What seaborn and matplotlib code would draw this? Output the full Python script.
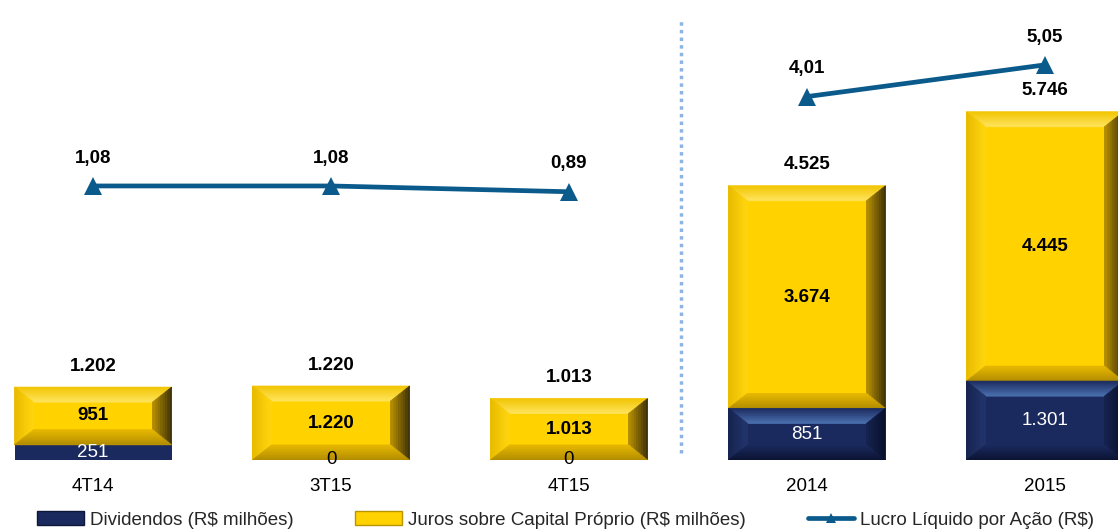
import matplotlib
matplotlib.use('Agg')
import numpy as np
import pandas as pd
import matplotlib.pyplot as plt
import seaborn as sns
from matplotlib.patches import Polygon, Rectangle
from matplotlib.lines import Line2D
from matplotlib.colors import to_rgb
from matplotlib.transforms import IdentityTransform

# data
periodos = ["4T14", "3T15", "4T15", "2014", "2015"]
dividendos = [251, 0, 0, 851, 1301]
juros = [951, 1220, 1013, 3674, 4445]
totais = [1202, 1220, 1013, 4525, 5746]
lucro_tri = [1.08, 1.08, 0.89]
lucro_ano = [4.01, 5.05]

YEL = "#FFD200"
NAVY = "#1B2A5E"
LINE = "#0B5A8C"
SEP = "#8DB4E2"
FS = 13.5


def br_int(v):
    return "{:,}".format(v).replace(",", ".")


def br_dec(v):
    return "{:.2f}".format(v).replace(".", ",")


def mix(c1, c2, t):
    a, b = np.array(to_rgb(c1)), np.array(to_rgb(c2))
    return tuple(a + (b - a) * t)


def bevel(ax, p, cols, dx=19, dy=15, steps=8):
    # fake excel bevel, drawn in pixels over the bar patch
    # cols: (outer, inner) colour for top, left, right, bottom
    h = p.get_height()
    if h <= 0:
        return
    X0, Y0 = ax.transData.transform((p.get_x(), p.get_y()))
    X1, Y1 = ax.transData.transform((p.get_x() + p.get_width(), p.get_y() + h))
    if Y1 - Y0 < 25:
        return
    ex = min(dx, (X1 - X0) / 2)
    ey = min(dy, (Y1 - Y0) / 2)
    for k in range(steps):
        a, b = k / steps, (k + 1) / steps
        xa, xb, ya, yb = ex * a, ex * b, ey * a, ey * b
        sides = [
            [(X0 + xa, Y1 - ya), (X1 - xa, Y1 - ya), (X1 - xb, Y1 - yb), (X0 + xb, Y1 - yb)],
            [(X0 + xa, Y0 + ya), (X0 + xa, Y1 - ya), (X0 + xb, Y1 - yb), (X0 + xb, Y0 + yb)],
            [(X1 - xa, Y0 + ya), (X1 - xa, Y1 - ya), (X1 - xb, Y1 - yb), (X1 - xb, Y0 + yb)],
            [(X0 + xa, Y0 + ya), (X1 - xa, Y0 + ya), (X1 - xb, Y0 + yb), (X0 + xb, Y0 + yb)],
        ]
        for pts, (c_out, c_in) in zip(sides, cols):
            c = mix(c_out, c_in, (a + b) / 2)
            ax.add_artist(Polygon(pts, closed=True, facecolor=c, edgecolor=c, lw=0.6,
                                  transform=IdentityTransform(), zorder=3))


sns.set_theme(style="white")
plt.rcParams['font.family'] = ['Liberation Sans', 'DejaVu Sans']

fig = plt.figure(figsize=(11.18, 5.31), dpi=100)
ax = fig.add_axes([0, 71 / 531, 1, 460 / 531])

df = pd.DataFrame({"periodo": periodos, "total": totais, "div": dividendos, "juros": juros})
sns.barplot(data=df, x="periodo", y="total", color=YEL, saturation=1, width=0.66,
            linewidth=0, ax=ax, zorder=2)
sns.barplot(data=df, x="periodo", y="div", color=NAVY, saturation=1, width=0.66,
            linewidth=0, ax=ax, zorder=2)
yel_bars = ax.patches[:len(periodos)]
navy_bars = ax.patches[len(periodos):2 * len(periodos)]

ax.set_xlim(-0.391, 4.307)
ax.set_ylim(0, 7590)

# yellow part sits on top of the dividends
for p, d, j in zip(yel_bars, dividendos, juros):
    p.set_y(d)
    p.set_height(j)

yel_cols = [("#F2C400", "#FFE45C"), ("#E8BA00", "#FFD60F"),
            ("#3A2E0A", "#B89000"), ("#B08A00", "#E6B800")]
navy_cols = [("#1B2A5E", "#4A6FAE"), ("#16234F", "#22356C"),
             ("#080F2A", "#16234F"), ("#0A1230", "#1B2A5E")]
for p in yel_bars:
    bevel(ax, p, yel_cols)
for p in navy_bars:
    bevel(ax, p, navy_cols)

# labels
for i, (d, j, t) in enumerate(zip(dividendos, juros, totais)):
    ax.annotate(br_int(t), (i, t), xytext=(0, 15), textcoords="offset points",
                ha="center", va="center", fontsize=FS, fontweight="bold", color="black", zorder=5)
    ax.text(i, d + j / 2, br_int(j), ha="center", va="center", fontsize=FS,
            fontweight="bold", color="black", zorder=5)
    ax.text(i, d / 2, br_int(d), ha="center", va="center", fontsize=FS,
            color="white" if d > 0 else "black", zorder=5)

ax.axvline(2.47, ymin=7 / 460, ymax=440 / 460, color=SEP, lw=2.5,
           linestyle=(0, (1, 1.2)), zorder=1)

ax.set_xlabel("")
ax.set_ylabel("")
ax.set_yticks([])
ax.tick_params(axis="x", length=0, pad=13, labelsize=FS, colors="black")
sns.despine(ax=ax, left=True, bottom=True)

# line on its own axes
ax2 = fig.add_axes([0, 71 / 531, 1, 460 / 531])
ax2.patch.set_visible(False)
pos = np.arange(len(periodos))
for xs, ys in [(pos[:len(lucro_tri)], lucro_tri), (pos[len(lucro_tri):], lucro_ano)]:
    sns.lineplot(x=xs, y=ys, ax=ax2, color=LINE, lw=3.4, marker="^", markersize=12.5,
                 markeredgewidth=0, legend=False)
    for x, y in zip(xs, ys):
        ax2.annotate(br_dec(y), (x, y), xytext=(0, 20), textcoords="offset points",
                     ha="center", va="center", fontsize=FS, fontweight="bold", color="black")
ax2.set_xlim(-0.391, 4.307)
ax2.set_ylim(-7.905, 7.177)
ax2.axis("off")

handles = [Rectangle((0, 0), 1, 1, facecolor=NAVY, edgecolor="#0E1738", lw=1),
           Rectangle((0, 0), 1, 1, facecolor=YEL, edgecolor="#B89400", lw=1),
           Line2D([], [], color=LINE, lw=3.4, marker="^", markersize=7, markeredgewidth=0)]
labels = ["Dividendos (R$ milhões)", "Juros sobre Capital Próprio (R$ milhões)",
          "Lucro Líquido por Ação (R$)"]
fig.legend(handles, labels, loc="center", bbox_to_anchor=(0.506, 0.0207), ncol=3,
           frameon=False, fontsize=FS, handlelength=2.5, handleheight=0.7,
           handletextpad=0.3, columnspacing=3.3, borderaxespad=0, borderpad=0)

fig.savefig("out.png", dpi=100)
